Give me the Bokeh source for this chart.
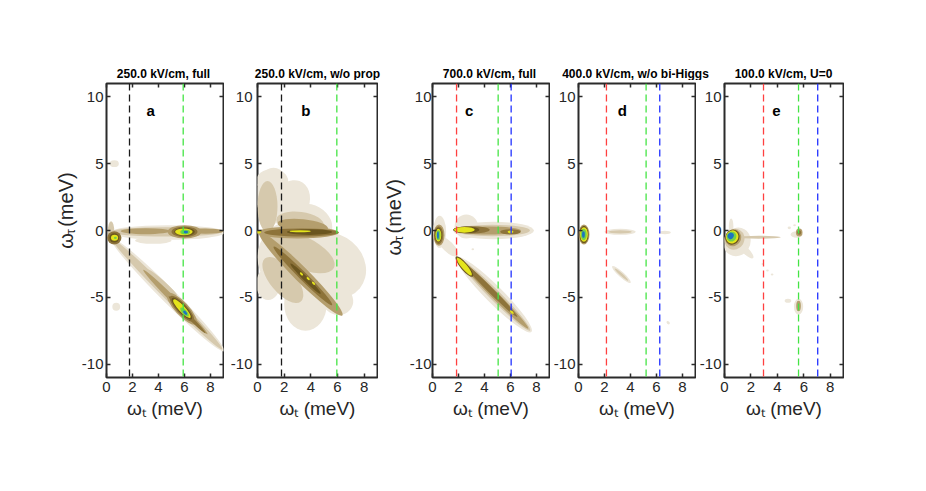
from bokeh.plotting import figure
from bokeh.models import Range1d, FixedTicker, LinearAxis, Span, Label, ColumnDataSource
from bokeh.layouts import row, column
from bokeh.embed import file_html
from bokeh.resources import INLINE
from bokeh.core.properties import value

FONT = "Liberation Sans"

# ---------------- data ----------------
TITLES = ["250.0 kV/cm, full", "250.0 kV/cm, w/o prop", "700.0 kV/cm, full",
          "400.0 kV/cm, w/o bi-Higgs", "100.0 kV/cm, U=0"]
LETTERS = ["a", "b", "c", "d", "e"]
LETTER_X = [3.4, 3.62, 2.82, 3.38, 3.92]
X_TICKS = [0, 2, 4, 6, 8]
Y_TICKS = [-10, -5, 0, 5, 10]
Y_TICK_TEXT = ["-10", "-5", "0", "5", "10"]
X_LABEL = "ωₜ (meV)"
X_RANGE = (0, 9)
Y_RANGE = (-11, 11)

# dashed marker lines (meV) and colours
LINES_A = [1.77, 5.9]
LCOL_A = ["#1a1a1a", "#44e444"]
LINES_B = [1.8, 5.95]
LCOL_B = ["#1a1a1a", "#44e444"]
LINES_C = [1.85, 5.05, 6.05]
LCOL_C = ["#ff4040", "#44e444", "#2030ff"]
LINES_D = [2.15, 5.2, 6.25]
LCOL_D = ["#ff4040", "#44e444", "#2030ff"]
LINES_E = [2.95, 5.6, 7.05]
LCOL_E = ["#ff4040", "#44e444", "#2030ff"]

# contour levels, from faint to strong
LEVEL_COLORS = ["#ece6d9", "#d6c9ad", "#b49e6d", "#8d733a", "#6a551f",
                "#e4e41c", "#74d14a", "#1c74c2"]

# spectral features: (w_t, w_tau, width, height, angle_deg, level)
BLOBS_A = [
    (0.6, 5.0, 0.7, 0.5, 0, 0),
    (0.75, -5.7, 0.6, 0.6, 0, 0),
    (4.7, -0.15, 8.8, 1.1, 0, 0),
    (3.6, -0.75, 2.8, 0.5, 0, 0),
    (4.6, -0.1, 8.6, 0.7, 0, 1),
    (3.0, -0.05, 3.8, 0.45, 0, 2),
    (7.6, -0.05, 2.8, 0.4, 0, 2),
    (6.0, -0.1, 2.6, 1.0, 0, 2),
    (6.0, -0.1, 2.0, 0.8, 0, 3),
    (6.0, -0.1, 1.6, 0.62, 0, 4),
    (5.95, -0.1, 1.35, 0.5, 0, 5),
    (6.05, -0.12, 0.75, 0.36, 0, 6),
    (6.1, -0.12, 0.35, 0.22, 0, 7),
    (0.35, -0.1, 0.5, 1.6, 0, 1),
    (0.6, -0.55, 1.1, 1.0, 0, 3),
    (0.6, -0.55, 0.75, 0.7, 0, 4),
    (0.62, -0.55, 0.55, 0.45, 0, 5),
    (0.68, -0.55, 0.22, 0.18, 0, 6),
    (4.7, -4.8, 12.3, 1.1, -45, 0),
    (4.7, -4.8, 11.9, 0.7, -45, 1),
    (5.3, -5.35, 7.0, 0.45, -45, 2),
    (6.2, -6.3, 4.0, 0.3, -45, 3),
    (4.3, -3.9, 3.0, 0.35, -42, 1),
    (5.8, -5.85, 3.2, 1.0, -47, 2),
    (5.8, -5.85, 2.6, 0.8, -47, 3),
    (5.8, -5.85, 2.2, 0.62, -47, 4),
    (5.8, -5.85, 1.9, 0.48, -47, 5),
    (6.0, -6.1, 0.9, 0.35, -47, 6),
    (6.05, -6.15, 0.4, 0.2, -47, 7),
]

BLOBS_B = [
    (1.2, 2.6, 2.6, 4.2, 0, 0),
    (1.1, 3.7, 2.4, 1.8, 0, 0),
    (2.6, 2.2, 2.6, 3.2, -20, 0),
    (4.0, 0.6, 3.4, 2.6, -30, 0),
    (2.5, -2.0, 5.0, 5.4, 0, 0),
    (5.6, -2.6, 5.4, 4.6, -40, 0),
    (3.6, -5.5, 3.2, 4.0, 0, 0),
    (6.0, -5.2, 2.4, 2.2, -30, 0),
    (0.8, -4.0, 1.8, 2.4, 0, 0),
    (0.75, 1.8, 1.5, 3.8, 0, 1),
    (3.2, 0.6, 3.6, 1.6, -8, 1),
    (3.2, -1.6, 5.6, 2.4, -25, 1),
    (1.9, -3.7, 4.2, 1.9, -50, 1),
    (3.4, 0.35, 3.8, 1.0, -6, 2),
    (3.25, -3.25, 8.8, 1.1, -45, 2),
    (3.0, -0.15, 6.2, 0.9, 0, 2),
    (3.3, -0.15, 5.6, 0.6, 0, 3),
    (3.4, -3.4, 6.2, 0.6, -45, 3),
    (3.9, -0.12, 3.4, 0.42, 0, 4),
    (3.6, -3.6, 3.2, 0.35, -45, 4),
    (3.2, -0.05, 1.6, 0.15, 0, 5),
    (3.3, -3.25, 0.3, 0.15, -45, 5),
    (3.8, -3.6, 0.3, 0.15, -45, 5),
    (4.2, -3.95, 0.3, 0.15, -45, 5),
    (0.1, -0.1, 0.35, 0.25, 0, 5),
]

BLOBS_C = [
    (0.55, -0.1, 1.0, 2.4, 0, 0),
    (1.2, -1.2, 2.0, 0.8, -45, 0),
    (4.7, 0.0, 6.2, 1.3, 0, 0),
    (2.6, 0.3, 1.8, 1.8, 0, 0),
    (4.6, 0.0, 5.8, 0.85, 0, 1),
    (4.3, 0.0, 5.0, 0.6, 0, 2),
    (3.0, 0.05, 2.8, 0.55, 0, 3),
    (6.0, -0.1, 1.6, 0.4, 0, 3),
    (2.6, 0.05, 2.0, 0.5, 0, 4),
    (2.45, 0.05, 1.6, 0.42, 0, 5),
    (6.0, -0.1, 0.45, 0.2, 0, 5),
    (0.5, -0.35, 0.85, 1.6, 0, 2),
    (0.47, -0.35, 0.7, 1.35, 0, 3),
    (0.45, -0.35, 0.55, 1.1, 0, 4),
    (0.45, -0.35, 0.45, 0.95, 0, 5),
    (0.45, -0.35, 0.32, 0.75, 0, 6),
    (0.42, -0.35, 0.15, 0.55, 0, 7),
    (4.75, -4.8, 8.1, 1.3, -45, 0),
    (4.75, -4.8, 7.8, 0.8, -45, 1),
    (4.75, -4.8, 7.4, 0.55, -45, 2),
    (4.4, -4.4, 6.0, 0.4, -45, 3),
    (2.45, -2.7, 2.0, 0.55, -50, 4),
    (2.45, -2.7, 1.75, 0.4, -50, 5),
    (6.1, -6.1, 0.4, 0.15, -45, 5),
    (3.1, -1.4, 0.2, 0.15, 0, 0),
]

BLOBS_D = [
    (0.42, -0.3, 0.85, 1.5, 0, 2),
    (0.42, -0.3, 0.7, 1.3, 0, 4),
    (0.42, -0.3, 0.6, 1.1, 0, 5),
    (0.4, -0.3, 0.45, 0.85, 0, 6),
    (0.38, -0.3, 0.22, 0.5, 0, 7),
    (3.2, -0.1, 2.4, 0.45, 0, 0),
    (3.2, -0.1, 1.8, 0.25, 0, 1),
    (6.65, -0.15, 0.9, 0.25, 0, 0),
    (3.3, -3.3, 1.9, 0.4, -42, 0),
    (3.3, -3.3, 1.4, 0.2, -42, 1),
    (6.9, -6.9, 0.3, 0.2, -45, 0),
]

BLOBS_E = [
    (0.95, -0.85, 2.0, 2.2, -30, 0),
    (0.5, 0.3, 0.35, 1.2, 0, 0),
    (0.75, -0.65, 1.5, 1.6, -30, 1),
    (0.65, -0.55, 1.2, 1.3, -30, 2),
    (0.6, -0.5, 1.05, 1.15, -30, 4),
    (0.58, -0.48, 0.92, 1.0, -30, 5),
    (0.53, -0.45, 0.72, 0.78, -30, 6),
    (0.47, -0.4, 0.45, 0.5, -30, 7),
    (2.6, -0.5, 3.3, 0.22, 0, 1),
    (1.6, -1.5, 1.6, 0.5, -45, 0),
    (2.9, -2.5, 0.2, 0.15, 0, 0),
    (3.25, -3.0, 0.2, 0.15, 0, 0),
    (3.6, -3.3, 0.2, 0.15, 0, 0),
    (5.45, -0.3, 0.9, 0.5, 0, 0),
    (5.65, -0.15, 0.5, 0.6, 0, 2),
    (5.65, -0.15, 0.3, 0.35, 0, 3),
    (4.9, 0.2, 0.25, 0.2, 0, 0),
    (5.3, 0.4, 0.2, 0.15, 0, 0),
    (5.6, -5.7, 0.7, 1.2, 0, 0),
    (5.6, -5.65, 0.35, 0.8, 0, 2),
    (4.8, -5.25, 0.5, 0.3, 0, 0),
]

# ---------------- layout constants (pixels) ----------------
TITLE_H = 80
TITLE_BASE = 6.5
BORDER_T = 3
BORDER_B = 55
BORDER_R = 1
FRAME_W = 120
FRAME_H = 294
BORDER_L = [25, 33, 23, 25, 27]
YLAB_W = [78, 0, 28, 0, 0]
STANDOFF = [3, 5, 1, 3, 3]
HIDE_Y = [[], [], [-5], [], []]
# rotated y-label pieces, centred: (text, centre x, centre y, size)
YLAB_PARTS = [
    [("ω", 65.5, 163.5, "20px"), ("τ", 70, 174.5, "13px"), ("(meV)", 65.5, 213, "20px")],
    None,
    [("ω", 15.5, 155.5, "20px"), ("τ", 20, 166.5, "13px"), ("(meV)", 15.5, 205, "20px")],
    None,
    None,
]

INK = "#2b2b2b"
TXT = "#262626"


def style_axis(ax, ticks, show, standoff=4, overrides=None):
    ax.ticker = FixedTicker(ticks=ticks)
    ax.major_tick_in = 4
    ax.major_tick_out = 0
    ax.minor_tick_line_color = None
    ax.axis_line_color = None
    ax.major_tick_line_color = INK
    ax.major_tick_line_width = 1.5
    ax.major_label_text_font = FONT
    if show:
        ax.major_label_text_font_size = "15px"
        ax.major_label_text_color = TXT
        ax.major_label_standoff = standoff
        if overrides:
            ax.major_label_overrides = overrides
    else:
        ax.major_label_text_font_size = "0px"
        ax.major_label_text_color = None
        ax.major_label_standoff = 0


def blank_fig(w, h):
    f = figure(width=w, height=h, x_range=Range1d(0, w), y_range=Range1d(0, h),
               x_axis_type=None, y_axis_type=None, min_border=0,
               output_backend="svg", toolbar_location=None, title=None)
    f.grid.visible = False
    f.outline_line_color = None
    return f


def make_panel(i, blobs, lines, lcols):
    L = BORDER_L[i]
    W = L + FRAME_W + BORDER_R
    H = BORDER_T + FRAME_H + BORDER_B
    p = figure(width=W, height=H,
               x_range=Range1d(*X_RANGE), y_range=Range1d(*Y_RANGE),
               min_border_left=L, min_border_right=BORDER_R,
               min_border_top=BORDER_T, min_border_bottom=BORDER_B,
               output_backend="svg", toolbar_location=None, title=None)
    p.grid.visible = False
    p.outline_line_color = INK
    p.outline_line_width = 2

    style_axis(p.xaxis[0], X_TICKS, True, 4)
    p.xaxis.axis_label = X_LABEL
    p.xaxis.axis_label_text_font = FONT
    p.xaxis.axis_label_text_font_size = "19px"
    p.xaxis.axis_label_text_font_style = "normal"
    p.xaxis.axis_label_text_color = TXT
    p.xaxis.axis_label_standoff = 3

    ov = {t: ("" if t in HIDE_Y[i] else s) for t, s in zip(Y_TICKS, Y_TICK_TEXT)}
    style_axis(p.yaxis[0], Y_TICKS, True, STANDOFF[i], ov)
    top = LinearAxis()
    style_axis(top, X_TICKS, False)
    p.add_layout(top, "above")
    right = LinearAxis()
    style_axis(right, Y_TICKS, False)
    p.add_layout(right, "right")

    bl = sorted(blobs, key=lambda b: b[5])
    src = ColumnDataSource(dict(
        x=[b[0] for b in bl], y=[b[1] for b in bl],
        w=[b[2] for b in bl], h=[b[3] for b in bl],
        a=[b[4] for b in bl], c=[LEVEL_COLORS[b[5]] for b in bl]))
    p.ellipse(x="x", y="y", width="w", height="h", angle="a", angle_units="deg",
              fill_color="c", line_color=None, source=src)

    for xv, col in zip(lines, lcols):
        p.add_layout(Span(location=xv, dimension="height", line_color=col,
                          line_dash="7 4", line_width=1.3))

    p.add_layout(Label(x=LETTER_X[i], y=8.95, text=LETTERS[i], text_font=FONT,
                       text_font_style="bold", text_font_size="15px",
                       text_color="black", text_align="center",
                       text_baseline="alphabetic"))

    if YLAB_PARTS[i]:
        yl = blank_fig(YLAB_W[i], H)
        for txt, xm, ym, fs in YLAB_PARTS[i]:
            yl.text(x=[xm], y=[ym], text=[txt], angle=90, angle_units="deg",
                    text_font=value(FONT), text_font_size=fs, text_color=TXT,
                    text_align="center", text_baseline="middle")
        return row(yl, p)
    return p


groups = [
    make_panel(0, BLOBS_A, LINES_A, LCOL_A),
    make_panel(1, BLOBS_B, LINES_B, LCOL_B),
    make_panel(2, BLOBS_C, LINES_C, LCOL_C),
    make_panel(3, BLOBS_D, LINES_D, LCOL_D),
    make_panel(4, BLOBS_E, LINES_E, LCOL_E),
]

# title strip spanning all panels (titles are wider than the panels)
centers = []
acc = 0
for L, yw in zip(BORDER_L, YLAB_W):
    centers.append(acc + yw + L + FRAME_W / 2)
    acc += yw + L + FRAME_W + BORDER_R
total_w = acc

ts = blank_fig(total_w, TITLE_H)
ts.text(x=centers, y=[TITLE_BASE] * len(centers), text=TITLES, text_font=value(FONT),
        text_font_style="bold", text_font_size="12px", text_align="center",
        text_baseline="alphabetic", text_color="black")

layout = column(ts, row(*groups))
open("out.html", "w").write(file_html(layout, INLINE))
